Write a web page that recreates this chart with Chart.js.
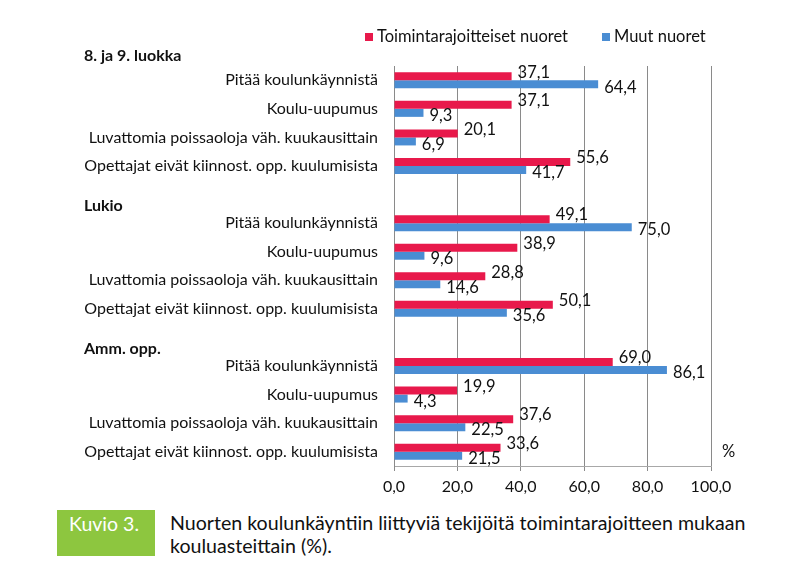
<!DOCTYPE html>
<html>
<head>
<meta charset="utf-8">
<script src="https://cdn.jsdelivr.net/npm/chart.js@4"></script>
<style>
  html, body { margin: 0; padding: 0; background: #fff; }
  #wrap { position: relative; width: 794px; height: 575px; }
  #chartbox { position: absolute; left: 0; top: 0; width: 794px; height: 500px; }
  #kuvio { position: absolute; left: 57px; top: 510px; width: 98px; height: 46px; background: #8DC63F;
           color: #fff; font-family: 'Lato', sans-serif; font-size: 19.5px;
           line-height: 27px; text-indent: 12px; }
  #caption { position: absolute; left: 170px; top: 511px; width: 620px; font-family: 'Lato', sans-serif;
             font-size: 19.6px; line-height: 23px; color: #111; }
</style>
</head>
<body>
<div id="wrap">
  <div id="chartbox"><canvas id="c" width="794" height="500"></canvas></div>
  <div id="kuvio">Kuvio 3.</div>
  <div id="caption">Nuorten koulunkäyntiin liittyviä tekijöitä toimintarajoitteen mukaan<br>kouluasteittain (%).</div>
</div>
<script>
const groups = ["8. ja 9. luokka", "Lukio", "Amm. opp."];
const items = ["Pitää koulunkäynnistä", "Koulu-uupumus", "Luvattomia poissaoloja väh. kuukausittain", "Opettajat eivät kiinnost. opp. kuulumisista"];
const seriesNames = ["Toimintarajoitteiset nuoret", "Muut nuoret"];
const redValues = [
  [37.1, 37.1, 20.1, 55.6],
  [49.1, 38.9, 28.8, 50.1],
  [69.0, 19.9, 37.6, 33.6]
];
const blueValues = [
  [64.4, 9.3, 6.9, 41.7],
  [75.0, 9.6, 14.6, 35.6],
  [86.1, 4.3, 22.5, 21.5]
];
const xTicks = [0, 20, 40, 60, 80, 100];

// build category list with blank spacer rows between groups
const labels = [], red = [], blue = [], groupFirst = [];
groups.forEach((g, gi) => {
  if (gi > 0) { labels.push(""); red.push(null); blue.push(null); }
  groupFirst.push(labels.length);
  items.forEach((it, ii) => { labels.push(it); red.push(redValues[gi][ii]); blue.push(blueValues[gi][ii]); });
});

const FONT = "Lato, 'Open Sans', sans-serif";
const fmt = v => v.toFixed(1).replace('.', ',');

const extras = {
  id: 'extras',
  afterDatasetsDraw(chart) {
    const ctx = chart.ctx;
    ctx.save();
    ctx.font = "16.5px " + FONT;
    ctx.fillStyle = "#111";
    ctx.textBaseline = "middle";
    ctx.textAlign = "left";
    chart.data.datasets.forEach((ds, di) => {
      const meta = chart.getDatasetMeta(di);
      meta.data.forEach((el, i) => {
        const v = ds.data[i];
        if (v === null) return;
        ctx.fillText(fmt(v), el.x + 6, el.y + (di === 0 ? -4 : 3));
      });
    });
    ctx.restore();
  },
  afterDraw(chart) {
    const ctx = chart.ctx, ys = chart.scales.y, area = chart.chartArea;
    ctx.save();
    // group headers
    const offsets = [24, 17, 17];
    ctx.font = "bold 16px " + FONT;
    ctx.fillStyle = "#111";
    ctx.textAlign = "left";
    ctx.textBaseline = "middle";
    groups.forEach((g, gi) => {
      ctx.fillText(g, 84, ys.getPixelForValue(groupFirst[gi]) - offsets[gi]);
    });
    // percent sign
    ctx.font = "16.5px " + FONT;
    ctx.fillText("%", area.right + 11, ys.getPixelForValue(labels.length - 1));
    // legend
    const ly = 37;
    const legendX = [365, 602];
    chart.data.datasets.forEach((ds, di) => {
      ctx.fillStyle = ds.backgroundColor;
      ctx.fillRect(legendX[di], ly - 4, 8, 8);
      ctx.fillStyle = "#111";
      ctx.fillText(ds.label, legendX[di] + 12, ly);
    });
    ctx.restore();
  }
};

new Chart(document.getElementById('c'), {
  type: 'bar',
  data: {
    labels: labels,
    datasets: [
      { label: seriesNames[0], data: red, backgroundColor: "#E8194B", categoryPercentage: 0.56, barPercentage: 1.0 },
      { label: seriesNames[1], data: blue, backgroundColor: "#4A8DD3", categoryPercentage: 0.56, barPercentage: 1.0 }
    ]
  },
  options: {
    indexAxis: 'y',
    responsive: false,
    animation: false,
    layout: { padding: { left: 0, right: 83, top: 66, bottom: 0 } },
    plugins: { legend: { display: false }, tooltip: { enabled: false } },
    scales: {
      x: {
        min: 0, max: 100,
        afterBuildTicks: s => { s.ticks = xTicks.map(v => ({ value: v })); },
        afterFit: s => { s.height = 34; },
        grid: { color: "#8a8a8a", lineWidth: 1, tickLength: 5, drawOnChartArea: true, tickColor: "#8a8a8a" },
        border: { color: "#a8a8a8", width: 1 },
        ticks: { color: "#111", font: { family: FONT, size: 16 }, padding: 6, callback: v => fmt(v) }
      },
      y: {
        afterFit: s => { s.width = 394; },
        grid: { display: false, drawTicks: false },
        border: { color: "#8a8a8a", width: 1 },
        ticks: { color: "#111", font: { family: FONT, size: 16 }, padding: 16, autoSkip: false }
      }
    }
  },
  plugins: [extras]
});
</script>
</body>
</html>
